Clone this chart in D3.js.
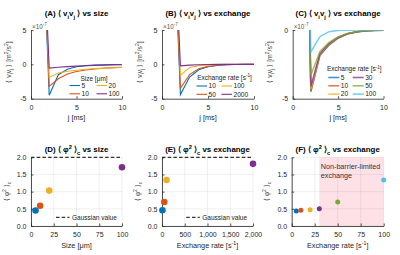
<!DOCTYPE html>
<html>
<head>
<meta charset="utf-8">
<script src="https://cdn.jsdelivr.net/npm/d3@7"></script>
<style>
body{margin:0;background:#fff}
text{font-family:"Liberation Sans",Arial,Helvetica,sans-serif}
</style>
</head>
<body>
<div id="chart"></div>
<script>
// lag j in ms
var lagMs = [1,2,3,4,5,6,7,8,9,10];

// (A) <vi vj> vs size, units 1e-7 m^2/s^2
var sizeNames = ["5","10","20","100"];
var sizeCorr = [
	[30,-4.5,-1.5,-0.7,-0.35,-0.18,-0.1,-0.05,-0.03,-0.02],
	[30,-3.2,-2.1,-1.4,-1.05,-0.82,-0.67,-0.56,-0.48,-0.42],
	[30,-1.9,-1.25,-1.0,-0.85,-0.72,-0.62,-0.55,-0.5,-0.45],
	[30,-0.55,-0.42,-0.33,-0.26,-0.2,-0.15,-0.11,-0.08,-0.05]
];

// (B) <vi vj> vs exchange rate
var exchNamesB = ["10","50","100","2000"];
var exchCorrB = [
	[30,-4.4,-1.85,-0.8,-0.35,-0.15,-0.06,-0.02,0,0],
	[30,-3.5,-1.5,-0.65,-0.3,-0.12,-0.05,-0.02,0,0],
	[30,-1.6,-0.45,-0.2,-0.08,-0.03,-0.01,0,0,0],
	[30,-0.22,-0.12,-0.06,-0.03,-0.01,0,0,0,0]
];

// (C) <vi vj> vs exchange rate, low rates
var exchNamesC = ["5","10","20","30","50","100"];
var exchCorrC = [
	[30,-4.5,-1.85,-1.1,-0.6,-0.3,-0.15,-0.07,-0.03,-0.01],
	[30,-4.4,-1.8,-1.05,-0.58,-0.29,-0.14,-0.06,-0.03,-0.01],
	[30,-4.3,-1.75,-1.0,-0.55,-0.28,-0.13,-0.06,-0.02,0],
	[30,-4.1,-1.7,-0.98,-0.53,-0.27,-0.13,-0.06,-0.02,0],
	[30,-3.3,-1.55,-0.9,-0.5,-0.25,-0.12,-0.05,-0.02,0],
	[30,-1.6,-0.48,-0.12,-0.03,-0.01,0,0,0,0]
];

// (D)-(F) <phi^2>_c
var sizeUm = [5,10,20,100];
var phiSize = [0.45,0.59,1.03,1.71];
var exchRateE = [10,50,100,2000];
var phiExchE = [0.46,0.70,1.34,1.81];
var exchRateF = [5,10,20,30,50,100];
var phiExchF = [0.44,0.46,0.47,0.50,0.70,1.34];
var gaussianValue = 2;
var nonBarrierFrom = 30;

var cols = ["#0072BD","#D95319","#EDB120","#7E2F8E","#77AC30","#4DBEEE"];
var axisCol = "#262626";

var svg = d3.select("#chart").append("svg").attr("width",400).attr("height",255);

//write text with sub/superscript parts: [[str, ""|"sub"|"sup"], ...]
function rich(sel, parts, size){
	var cur = 0;
	parts.forEach(function(p){
		var target = p[1]=="sub" ? size*0.3 : (p[1]=="sup" ? -size*0.4 : 0);
		var t = sel.append("tspan").text(p[0]).attr("dy", target-cur);
		if(p[1]) t.attr("font-size", size*0.72);
		cur = target;
	});
	return sel;
}

function styleAxis(g){
	g.selectAll(".domain").attr("stroke",axisCol).attr("stroke-width",0.8);
	g.selectAll(".tick line").attr("stroke",axisCol).attr("stroke-width",0.8);
	g.selectAll(".tick text").attr("fill",axisCol).attr("font-size",7);
}

function legend(g, items, opts){
	g.append("text").attr("x",opts.titleX).attr("y",opts.titleY).attr("text-anchor","middle")
		.attr("font-size",6.5).attr("fill","#222").call(function(s){rich(s, opts.title, 6.5)});
	items.forEach(function(it,i){
		var c = Math.floor(i/opts.rows), r = i%opts.rows;
		var x = opts.colX[c], y = opts.rowY[r];
		g.append("line").attr("x1",x).attr("x2",x+opts.lineLen).attr("y1",y).attr("y2",y)
			.attr("stroke",it.color).attr("stroke-width",opts.width).attr("stroke-opacity",opts.opacity);
		g.append("text").attr("x",x+opts.lineLen+1.5).attr("y",y+2.3).attr("font-size",6.6)
			.attr("fill","#222").text(it.name);
	});
}

//top row: velocity correlation curves
function curvePanel(p){
	var g = svg.append("g");
	var x = d3.scaleLinear().domain([0,10]).range([p.x0,p.x1]);
	var y = d3.scaleLinear().domain(p.yDomain).range([98.7,30]);
	var clipId = "clip"+p.id;
	svg.append("clipPath").attr("id",clipId).append("rect")
		.attr("x",p.x0).attr("y",30).attr("width",p.x1-p.x0).attr("height",68.7);

	var line = d3.line().x(function(d,i){return x(lagMs[i])}).y(function(d){return y(d)});
	g.append("g").attr("clip-path","url(#"+clipId+")").selectAll("path").data(p.series).enter().append("path")
		.attr("d",line).attr("fill","none")
		.attr("stroke",function(d,i){return cols[i]})
		.attr("stroke-width",p.width).attr("stroke-opacity",p.opacity);

	var xa = g.append("g").attr("transform","translate(0,98.7)")
		.call(d3.axisBottom(x).tickValues([0,5,10]).tickSize(-2.5).tickSizeOuter(0).tickPadding(6));
	var ya = g.append("g").attr("transform","translate("+p.x0+",0)")
		.call(d3.axisLeft(y).tickValues(p.yTicks).tickSize(-2.5).tickSizeOuter(0).tickPadding(4.5).tickFormat(d3.format("d")));
	styleAxis(xa); styleAxis(ya);
	ya.selectAll(".tick text").text(function(d){return d<0 ? "-"+(-d) : d});

	g.append("text").attr("x",p.x0+1).attr("y",28.5).attr("font-size",6.3).attr("fill","#555")
		.call(function(s){rich(s,[["\u00d710",""],["-7","sup"]],6.3)});
	g.append("text").attr("x",(p.x0+p.x1)/2).attr("y",120).attr("text-anchor","middle")
		.attr("font-size",7.3).attr("fill",axisCol).text("j [ms]");
	g.append("text").attr("transform","translate("+(p.x0-20.5)+",62) rotate(-90)").attr("text-anchor","middle")
		.attr("font-size",6.9).attr("fill","#444")
		.call(function(s){rich(s,[["\u27e8 v",""],["i","sub"],["v",""],["j","sub"],[" \u27e9 [m",""],["2","sup"],["/s",""],["2","sup"],["]",""]],6.9)});
	g.append("text").attr("x",(p.x0+p.x1)/2).attr("y",16.3).attr("text-anchor","middle")
		.attr("font-size",7.9).attr("font-weight","bold").attr("fill","#000")
		.call(function(s){rich(s,[["("+p.id+") \u27e8 v",""],["i","sub"],["v",""],["j","sub"],[" \u27e9 "+p.title,""]],7.9)});

	legend(g, p.names.map(function(n,i){return {name:n,color:cols[i]}}), p.legend);
}

curvePanel({id:"A", x0:31, x1:122, yDomain:[-5,5], yTicks:[-5,0,5], series:sizeCorr, names:sizeNames,
	width:1.1, opacity:1, title:"vs size",
	legend:{title:[["Size [\u03bcm]",""]], titleX:94, titleY:81.3, rows:2, colX:[69.5,96.5], rowY:[85.5,93.8],
		lineLen:10.5, width:1.1, opacity:1}});
curvePanel({id:"B", x0:162, x1:254, yDomain:[-5,5], yTicks:[-5,0,5], series:exchCorrB, names:exchNamesB,
	width:1.1, opacity:1, title:"vs exchange",
	legend:{title:[["Exchange rate [s",""],["-1","sup"],["]",""]], titleX:224.5, titleY:79.5, rows:2, colX:[196.5,221.5], rowY:[86,94.3],
		lineLen:10.5, width:1.1, opacity:1}});
curvePanel({id:"C", x0:292.7, x1:383.5, yDomain:[-5,0], yTicks:[-5,0], series:exchCorrC, names:exchNamesC,
	width:1.5, opacity:0.75, title:"vs exchange",
	legend:{title:[["Exchange rate [s",""],["-1","sup"],["]",""]], titleX:354.3, titleY:71.3, rows:3, colX:[328.3,352.7], rowY:[77.5,85.8,94.1],
		lineLen:11, width:1.6, opacity:0.75}});

//bottom row: <phi^2>_c scatter
function scatterPanel(p){
	var g = svg.append("g");
	var x = d3.scaleLinear().domain(p.xDomain).range([p.x0,p.x1]);
	var y = d3.scaleLinear().domain([0,2]).range([226,157.3]);
	var yTicks = [0,0.5,1,1.5,2];

	if(p.shadeFrom != null){
		g.append("rect").attr("x",x(p.shadeFrom)).attr("y",y(2)).attr("width",x(p.xDomain[1])-x(p.shadeFrom))
			.attr("height",y(0)-y(2)).attr("fill","#fde1e6");
	}

	var grid = g.append("g");
	grid.selectAll("line.gx").data(p.xTicks).enter().append("line")
		.attr("x1",function(d){return x(d)}).attr("x2",function(d){return x(d)})
		.attr("y1",y(0)).attr("y2",y(2)).attr("stroke","#262626").attr("stroke-opacity",0.12).attr("stroke-width",0.6);
	grid.selectAll("line.gy").data(yTicks).enter().append("line")
		.attr("x1",p.x0).attr("x2",p.x1)
		.attr("y1",function(d){return y(d)}).attr("y2",function(d){return y(d)})
		.attr("stroke","#262626").attr("stroke-opacity",0.12).attr("stroke-width",0.6);

	if(p.shadeFrom != null){
		var t = g.append("text").attr("x",x(p.shadeFrom)+1.5).attr("y",168.8).attr("font-size",7.2).attr("fill","#333");
		t.append("tspan").attr("x",x(p.shadeFrom)+1.5).text("Non-barrier-limited");
		t.append("tspan").attr("x",x(p.shadeFrom)+1.5).attr("dy",9.3).text("exchange");
	}

	if(p.gauss){
		g.append("line").attr("x1",p.x0).attr("x2",p.x1).attr("y1",y(gaussianValue)).attr("y2",y(gaussianValue))
			.attr("stroke","#000").attr("stroke-width",1).attr("stroke-dasharray","3.5,2.2");
		g.append("line").attr("x1",p.legX).attr("x2",p.legX+13.5).attr("y1",217.3).attr("y2",217.3)
			.attr("stroke","#000").attr("stroke-width",1).attr("stroke-dasharray","3.5,2.2");
		g.append("text").attr("x",p.legX+16).attr("y",219.6).attr("font-size",6.5).attr("fill","#222").text("Gaussian value");
	}

	var xa = g.append("g").attr("transform","translate(0,226)")
		.call(d3.axisBottom(x).tickValues(p.xTicks).tickSize(-2.5).tickSizeOuter(0).tickPadding(6));
	var ya = g.append("g").attr("transform","translate("+p.x0+",0)")
		.call(d3.axisLeft(y).tickValues(yTicks).tickSize(-2.5).tickSizeOuter(0).tickPadding(4.5));
	styleAxis(xa); styleAxis(ya);

	g.selectAll("circle.pt").data(p.vals).enter().append("circle")
		.attr("cx",function(d,i){return x(p.xs[i])}).attr("cy",function(d){return y(d)})
		.attr("r",p.r).attr("fill",function(d,i){return cols[i]});

	g.append("text").attr("x",(p.x0+p.x1)/2).attr("y",247.5).attr("text-anchor","middle")
		.attr("font-size",7.3).attr("fill",axisCol).call(function(s){rich(s,p.xLabel,7.3)});
	g.append("text").attr("transform","translate("+(p.x0-22.5)+",191.5) rotate(-90)").attr("text-anchor","middle")
		.attr("font-size",6.9).attr("fill","#444")
		.call(function(s){rich(s,[["\u27e8 \u03c6",""],["2","sup"],[" \u27e9",""],["c","sub"]],6.9)});
	g.append("text").attr("x",(p.x0+p.x1)/2).attr("y",152.3).attr("text-anchor","middle")
		.attr("font-size",7.9).attr("font-weight","bold").attr("fill","#000")
		.call(function(s){rich(s,[["("+p.id+") \u27e8 \u03c6",""],["2","sup"],[" \u27e9",""],["c","sub"],[" "+p.title,""]],7.9)});
}

scatterPanel({id:"D", x0:31, x1:122, xDomain:[0,100], xTicks:[0,25,50,75,100], xs:sizeUm, vals:phiSize,
	r:3.3, gauss:true, legX:56, title:"vs size", xLabel:[["Size [\u03bcm]",""]]});
scatterPanel({id:"E", x0:162, x1:253, xDomain:[0,2000], xTicks:[0,500,1000,1500,2000], xs:exchRateE, vals:phiExchE,
	r:3.3, gauss:true, legX:186.3, title:"vs exchange", xLabel:[["Exchange rate [s",""],["-1","sup"],["]",""]]});
scatterPanel({id:"F", x0:291.7, x1:383.7, xDomain:[0,100], xTicks:[0,25,50,75,100], xs:exchRateF, vals:phiExchF,
	r:2.5, gauss:false, shadeFrom:nonBarrierFrom, title:"vs exchange", xLabel:[["Exchange rate [s",""],["-1","sup"],["]",""]]});
</script>
</body>
</html>
